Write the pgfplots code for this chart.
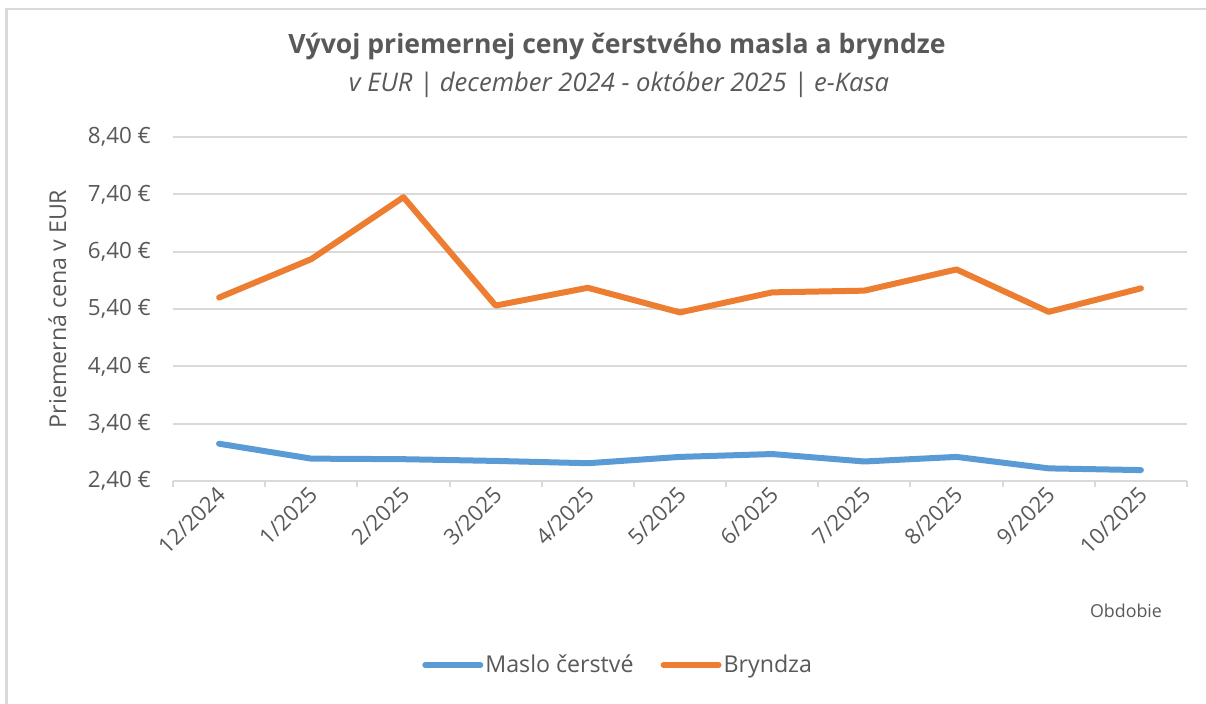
\documentclass[border=0pt]{standalone}
\usepackage{fontspec}
\setmainfont{Open Sans}
\usepackage{pgfplots}
\pgfplotsset{compat=1.18}
\definecolor{maslo}{HTML}{5B9BD5}
\definecolor{bry}{HTML}{ED7D31}
\definecolor{txt}{HTML}{595959}
\definecolor{grd}{HTML}{D9D9D9}
\begin{document}
\begin{tikzpicture}[x=0.5pt,y=0.5pt]
\useasboundingbox (0,0) rectangle (1206,704);
\draw[grd, line width=1.2pt] (6.5,0) -- (6.5,695) -- (1206,695);
\node[font=\bfseries\fontsize{13.3}{15}\selectfont, text=txt] at (617,657) {Vývoj priemernej ceny čerstvého masla a bryndze};
\node[font=\itshape\fontsize{12.8}{14}\selectfont, text=txt] at (619,619) {v EUR | december 2024 - október 2025 | e-Kasa};
\node[font=\fontsize{8.9}{10}\selectfont, text=txt] at (1126,93) {Obdobie};
\begin{axis}[
  at={(86.5pt,111.5pt)}, anchor=south west,
  width=507pt, height=172pt, scale only axis,
  xmin=-0.5, xmax=10.5, ymin=2.4, ymax=8.4,
  axis x line*=bottom, axis y line*=left,
  y axis line style={draw=none},
  x axis line style={grd, line width=1pt},
  ytick={2.4,3.4,4.4,5.4,6.4,7.4,8.4},
  yticklabels={{2,40 €},{3,40 €},{4,40 €},{5,40 €},{6,40 €},{7,40 €},{8,40 €}},
  ytick style={draw=none},
  ymajorgrids, grid style={grd, line width=1pt},
  xtick={0,...,10},
  xticklabels={12/2024,1/2025,2/2025,3/2025,4/2025,5/2025,6/2025,7/2025,8/2025,9/2025,10/2025},
  xtick style={draw=none},
  extra x ticks={-0.5,0.5,...,10.5},
  extra x tick labels={},
  extra x tick style={grid=none, xtick style={draw=grd, line width=1pt}, major tick length=3pt, tick align=outside},
  xticklabel style={xshift=3.5pt, yshift=-2.5pt, rotate=45, anchor=east, font=\fontsize{11}{12}\selectfont, text=txt},
  yticklabel style={xshift=-7.5pt, font=\fontsize{11.2}{12}\selectfont, text=txt},
  ylabel={Priemerná cena v EUR},
  ylabel style={at={(axis description cs:-0.114,0.5)}, anchor=center, font=\fontsize{11.6}{13}\selectfont, text=txt},
  legend style={at={(axis description cs:0.44,-0.535)}, anchor=center, draw=none, legend columns=2, font=\fontsize{11.6}{13}\selectfont, text=txt, /tikz/every even column/.append style={column sep=11.5pt}, /tikz/every odd column/.append style={column sep=-1pt}},
  legend image code/.code={\draw[#1, line width=3pt] (0pt,0pt) -- (27.5pt,0pt);},
]
\addplot[maslo, line width=3pt, line cap=round, line join=round] coordinates {
(0,3.05) (1,2.79) (2,2.78) (3,2.75) (4,2.71) (5,2.82) (6,2.87) (7,2.74) (8,2.82) (9,2.62) (10,2.59)};
\addlegendentry{Maslo čerstvé}
\addplot[bry, line width=3pt, line cap=round, line join=round] coordinates {
(0,5.60) (1,6.27) (2,7.35) (3,5.46) (4,5.77) (5,5.34) (6,5.69) (7,5.72) (8,6.09) (9,5.35) (10,5.76)};
\addlegendentry{Bryndza}
\end{axis}
\end{tikzpicture}
\end{document}
